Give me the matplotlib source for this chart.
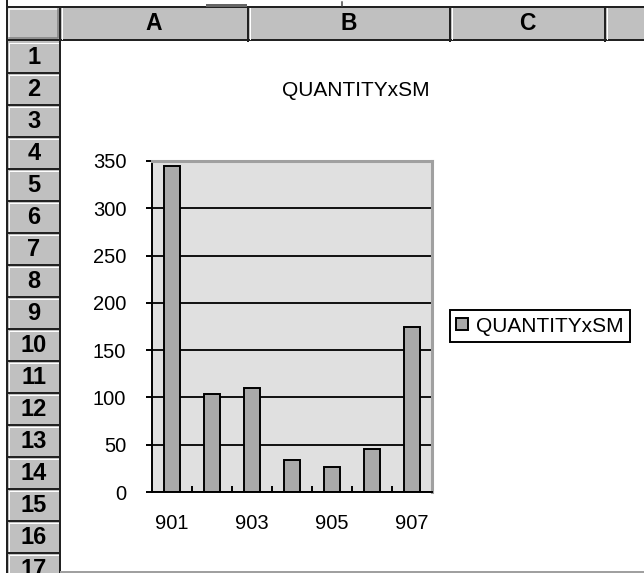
import numpy as np
import matplotlib.pyplot as plt
from matplotlib.patches import Rectangle

plt.rcParams['font.family'] = ['Liberation Sans', 'DejaVu Sans']

categories = ['901', '902', '903', '904', '905', '906', '907']
quantity = [345, 104, 110, 34, 26, 45, 174]
series_name = 'QUANTITYxSM'
y_ticks = [0, 50, 100, 150, 200, 250, 300, 350]
col_labels = ['A', 'B', 'C', '']
row_labels = [str(i) for i in range(1, 18)]

W, H = 644, 573
fig = plt.figure(figsize=(W / 100, H / 100), dpi=100)

# spreadsheet behind the chart, drawn in pixel units
bg = fig.add_axes([0, 0, 1, 1], zorder=0)
bg.set_xlim(0, W)
bg.set_ylim(H, 0)
bg.axis('off')

HDR = '#c0c0c0'
px = 0.72  # one pixel in points

# column header strip
col_edges = [60, 248, 450, 605, 720]
bg.add_patch(Rectangle((7, 7), W, 33, fc=HDR, ec='none'))
bg.plot([7, W], [6.5, 6.5], color='#222222', lw=2 * px)
bg.plot([7, W], [40, 40], color='#222222', lw=2 * px)
for i, lab in enumerate(col_labels):
    x0, x1 = col_edges[i], col_edges[i + 1]
    bg.plot([x0 + 2, x0 + 2], [8, 39], color='white', lw=1 * px)
    bg.plot([x0, x0], [7, 41], color='#222222', lw=2 * px)
    bg.text((x0 + x1) / 2, 24, lab, ha='center', va='center',
            fontsize=16.5, fontweight='bold', color='black')

# corner button
bg.add_patch(Rectangle((8, 8), 52, 32, fc=HDR, ec='none'))
bg.plot([9, 9, 58], [38, 9, 9], color='white', lw=1.5 * px)
bg.plot([9, 58, 58], [38, 38, 9], color='#808080', lw=1.5 * px)

# row headers
row_top, row_h = 41, 32
for i, lab in enumerate(row_labels):
    y0 = row_top + i * row_h
    bg.add_patch(Rectangle((8, y0), 52, row_h, fc=HDR, ec='none'))
    bg.plot([9, 59], [y0 + 2, y0 + 2], color='white', lw=1 * px)
    bg.plot([9, 9], [y0 + 2, y0 + row_h - 1], color='white', lw=1 * px)
    bg.plot([7, 60], [y0 + row_h, y0 + row_h], color='#222222', lw=2 * px)
    bg.text(34, y0 + row_h / 2 + 1, lab, ha='center', va='center',
            fontsize=17, fontweight='bold', color='black')
bg.plot([7, 7], [0, H], color='#222222', lw=2 * px)
bg.plot([60, 60], [7, H], color='#222222', lw=2 * px)

# bits above the header
bg.plot([207, 245], [4.5, 4.5], color='#666666', lw=3 * px)
bg.plot([342, 342], [2, 6], color='#444444', lw=1.5 * px)

# chart object border
bg.plot([61, W], [571.5, 571.5], color='#a0a0a0', lw=2 * px)

# chart title
bg.text(356, 90, series_name, ha='center', va='center', fontsize=15)

# plot area
ax = fig.add_axes([152 / W, 1 - 492 / H, 280 / W, 331 / H], zorder=2)
ax.set_facecolor('#e0e0e0')
x = np.arange(len(categories))
ax.bar(x, quantity, width=0.42, color='#a9a9a9', edgecolor='black',
       linewidth=1.4, label=series_name, zorder=2)
ax.set_xlim(-0.5, len(categories) - 0.5)
ax.set_ylim(y_ticks[0], y_ticks[-1])
ax.set_yticks(y_ticks)
ax.set_xticks(x[::2])
ax.set_xticklabels(categories[::2])
ax.set_xticks(x[:-1] + 0.5, minor=True)
ax.tick_params(axis='x', which='major', length=0, pad=16, labelsize=14.5)
ax.tick_params(axis='x', which='minor', direction='in', length=4.5, width=1.4)
ax.tick_params(axis='y', direction='out', length=4.5, width=1.4, pad=14,
               labelsize=14.5)
ax.yaxis.grid(True, color='black', linewidth=1.3)
ax.set_axisbelow(True)
ax.yaxis.get_gridlines()[-1].set_visible(False)

for s in ['left', 'bottom']:
    ax.spines[s].set_color('black')
    ax.spines[s].set_linewidth(1.4)
for s in ['top', 'right']:
    ax.spines[s].set_color('#a0a0a0')
    ax.spines[s].set_linewidth(2.2)

leg = ax.legend(loc='center', bbox_to_anchor=(540 / W, 1 - 326 / H),
                bbox_transform=fig.transFigure, fancybox=False,
                edgecolor='black', framealpha=1, fontsize=15,
                handlelength=0.55, handleheight=0.55, handletextpad=0.4,
                borderpad=0.3, borderaxespad=0)
leg.get_frame().set_linewidth(1.4)

fig.savefig('out.png', dpi=100)
